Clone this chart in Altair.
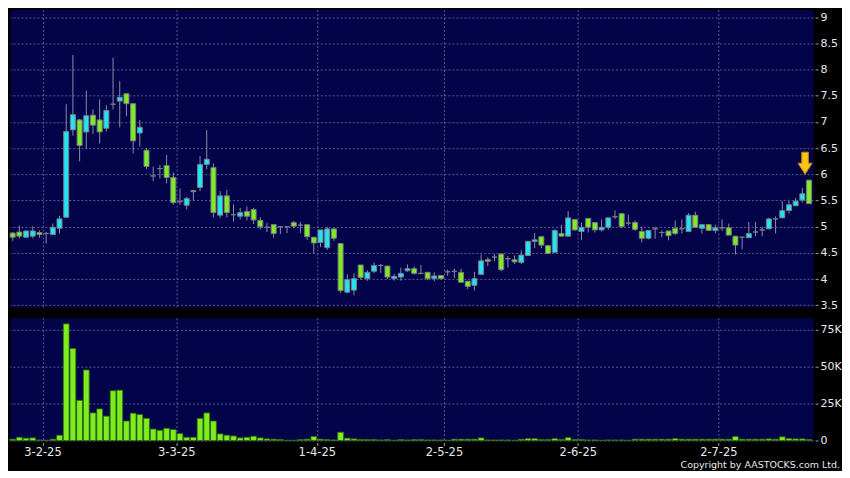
import altair as alt
import pandas as pd

# ---------------- data ----------------
opens = [4.88, 4.90, 4.80, 4.82, 4.89, 4.87, 4.85, 4.97, 5.18, 6.85,
         7.04, 6.81, 7.13, 7.04, 6.88, 7.34, 7.40, 7.54, 7.35, 6.79,
         6.46, 5.97, 6.11, 6.17, 5.94, 5.48, 5.41, 5.69, 5.75, 6.19,
         6.13, 5.22, 5.59, 5.23, 5.20, 5.29, 5.33, 5.12, 4.99, 5.04,
         5.00, 5.00, 5.08, 5.03, 5.04, 4.80, 4.70, 4.60, 4.96, 4.68,
         3.75, 3.79, 4.27, 4.01, 4.15, 4.26, 4.25, 4.01, 4.04, 4.16,
         4.20, 4.11, 4.13, 4.01, 4.07, 4.14, 4.15, 4.13, 3.96, 3.88,
         4.09, 4.37, 4.42, 4.48, 4.39, 4.37, 4.32, 4.45, 4.72, 4.81,
         4.64, 4.51, 4.87, 4.82, 5.14, 4.91, 5.16, 5.08, 4.94, 4.99,
         5.19, 5.25, 5.07, 5.08, 4.91, 4.78, 4.96, 4.89, 4.92, 4.97,
         4.96, 4.91, 5.22, 4.97, 5.04, 4.93, 4.98, 4.98, 4.82, 4.80,
         4.79, 4.90, 4.94, 4.96, 5.15, 5.17, 5.31, 5.40, 5.51, 5.89]
highs = [4.90, 5.02, 4.93, 5.01, 4.93, 4.90, 5.06, 5.21, 7.34, 8.28,
         7.06, 7.60, 7.24, 7.43, 7.32, 8.23, 7.78, 7.54, 7.35, 7.04,
         6.50, 6.15, 6.18, 6.37, 6.04, 5.73, 5.57, 5.69, 6.35, 6.85,
         6.21, 5.68, 5.70, 5.43, 5.36, 5.39, 5.36, 5.18, 5.07, 5.04,
         5.00, 5.00, 5.11, 5.09, 5.04, 4.80, 4.94, 5.00, 4.96, 4.68,
         4.09, 4.11, 4.27, 4.17, 4.32, 4.29, 4.25, 4.10, 4.22, 4.28,
         4.24, 4.27, 4.13, 4.13, 4.07, 4.18, 4.20, 4.20, 3.96, 4.14,
         4.47, 4.42, 4.48, 4.48, 4.44, 4.45, 4.55, 4.73, 4.88, 4.81,
         4.64, 4.95, 5.04, 5.30, 5.14, 5.08, 5.16, 5.08, 5.14, 5.17,
         5.31, 5.25, 5.23, 5.12, 5.00, 4.93, 5.00, 4.93, 4.92, 5.12,
         5.14, 5.26, 5.29, 5.04, 5.04, 5.04, 5.14, 5.06, 4.82, 4.80,
         5.09, 5.09, 5.00, 5.17, 5.20, 5.49, 5.49, 5.55, 5.74, 5.89]
lows = [4.73, 4.78, 4.79, 4.78, 4.79, 4.68, 4.85, 4.87, 5.18, 6.74,
        6.25, 6.49, 6.77, 6.59, 6.82, 7.24, 6.90, 7.11, 6.40, 6.53,
        6.10, 5.87, 5.92, 5.83, 5.42, 5.42, 5.33, 5.50, 5.68, 6.10,
        5.18, 5.17, 5.18, 5.10, 5.14, 5.12, 5.05, 4.95, 4.90, 4.79,
        4.86, 4.88, 4.97, 4.88, 4.75, 4.49, 4.61, 4.56, 4.73, 3.74,
        3.73, 3.69, 3.99, 3.97, 4.11, 4.12, 4.00, 3.97, 3.97, 4.14,
        4.09, 4.09, 3.98, 3.96, 3.99, 4.06, 4.02, 3.93, 3.81, 3.78,
        4.09, 4.25, 4.34, 4.15, 4.22, 4.29, 4.29, 4.45, 4.59, 4.59,
        4.48, 4.51, 4.81, 4.82, 4.92, 4.75, 4.89, 4.89, 4.91, 4.94,
        5.15, 4.97, 5.02, 4.92, 4.70, 4.76, 4.77, 4.80, 4.74, 4.84,
        4.87, 4.91, 4.99, 4.87, 4.92, 4.88, 4.92, 4.84, 4.47, 4.57,
        4.79, 4.82, 4.82, 4.96, 4.87, 5.17, 5.25, 5.40, 5.46, 5.44]
closes = [4.80, 4.82, 4.92, 4.92, 4.85, 4.87, 4.99, 5.15, 6.82, 7.14,
          6.55, 7.12, 6.94, 6.81, 7.22, 7.34, 7.47, 7.35, 6.64, 6.90,
          6.15, 5.97, 6.11, 5.94, 5.46, 5.48, 5.54, 5.67, 6.19, 6.29,
          5.27, 5.59, 5.27, 5.23, 5.27, 5.20, 5.13, 5.00, 4.99, 4.87,
          5.00, 5.00, 5.01, 5.03, 4.81, 4.69, 4.94, 4.96, 4.78, 3.78,
          3.99, 4.01, 4.03, 4.13, 4.26, 4.26, 4.04, 4.05, 4.11, 4.20,
          4.11, 4.11, 4.01, 4.06, 4.01, 4.14, 4.15, 3.94, 3.86, 4.01,
          4.35, 4.34, 4.42, 4.18, 4.39, 4.33, 4.46, 4.72, 4.75, 4.65,
          4.49, 4.93, 4.82, 5.17, 4.94, 4.99, 4.99, 4.94, 4.99, 5.17,
          5.19, 5.00, 5.07, 4.95, 4.78, 4.93, 4.96, 4.89, 4.83, 4.87,
          4.96, 5.22, 4.99, 5.04, 4.93, 4.98, 4.98, 4.84, 4.65, 4.80,
          4.87, 4.90, 4.94, 5.15, 5.15, 5.31, 5.42, 5.49, 5.63, 5.44]
volumes_k = [0.9, 2.2, 1.6, 1.8, 0.4, 0.2, 0.9, 3.6, 79.0, 62.3,
             27.2, 47.8, 18.7, 21.4, 16.5, 33.7, 34.1, 13.2, 18.5, 17.6,
             15.0, 7.8, 6.9, 8.3, 7.4, 4.7, 2.2, 2.2, 15.0, 18.7,
             13.2, 4.5, 3.6, 3.1, 1.8, 2.2, 2.9, 1.8, 1.1, 0.9,
             0.7, 0.2, 0.2, 0.7, 0.9, 2.7, 0.9, 0.7, 0.4, 5.6,
             1.6, 1.1, 0.7, 0.7, 0.7, 0.4, 0.7, 0.2, 0.7, 0.4,
             0.7, 0.7, 0.4, 0.4, 0.4, 0.2, 0.9, 0.9, 0.9, 0.9,
             1.8, 0.4, 0.4, 0.4, 0.4, 0.2, 0.9, 1.3, 1.3, 0.7,
             0.7, 1.3, 0.7, 2.0, 0.7, 0.7, 0.4, 0.4, 0.2, 0.4,
             0.4, 0.4, 0.2, 0.9, 0.9, 0.9, 0.9, 0.9, 0.9, 1.3,
             0.9, 0.9, 0.9, 0.9, 0.9, 0.9, 0.9, 0.9, 2.7, 0.9,
             0.9, 0.9, 0.9, 1.1, 0.9, 2.5, 1.3, 1.1, 1.1, 0.7]

tick_index = [4, 24, 45, 64, 84, 105]
tick_labels = ["3-2-25", "3-3-25", "1-4-25", "2-5-25", "2-6-25", "2-7-25"]
price_ticks = [9, 8.5, 8, 7.5, 7, 6.5, 6, 5.5, 5, 4.5, 4, 3.5]
volume_ticks = [0, 25000, 50000, 75000]
copyright_text = "Copyright by AASTOCKS.com Ltd."

# ---------------- styling ----------------
NAVY = "#03034a"
CYAN = "#22e4f0"
LIME = "#7ded1f"
GRAY = "#9a9aa6"
WICK = "#8c8ca4"
EDGE = "#7a7a88"
GRID = "#5c5c90"
LABEL = "#e8e8e8"
FONT = "DejaVu Sans"
PLOT_W = 805

n = len(opens)
df = pd.DataFrame({
    "i": list(range(n)),
    "open": opens, "high": highs, "low": lows, "close": closes,
    "vol": [v * 1000 for v in volumes_k],
})
df["dir"] = ["up" if c > o else ("down" if c < o else "flat")
             for o, c in zip(opens, closes)]

grid_pos = [t + 0.45 for t in tick_index]
label_expr = "".join(
    f"abs(datum.value - {g}) < 0.01 ? '{lab}' : " for g, lab in zip(grid_pos, tick_labels)
) + "''"

x_scale = alt.Scale(domain=[-0.4, 119.6], nice=False, zero=False, padding=0)
price_scale = alt.Scale(domain=[3.471, 9.147], nice=False, zero=False)
vol_scale = alt.Scale(domain=[0, 83100], nice=False, zero=False)

x_price = alt.X("i:Q", scale=x_scale, title=None,
                axis=alt.Axis(values=grid_pos, labels=False, ticks=False,
                              domain=False, grid=True))
y_axis_price = alt.Axis(orient="right", values=price_ticks, format=".1~f",
                        grid=True, tickSize=3, offset=2, labelPadding=2,
                        domain=False, labelFontSize=11)

base = alt.Chart(df)

wicks = base.mark_rule(color=WICK, strokeWidth=1).encode(
    x=x_price,
    y=alt.Y("low:Q", scale=price_scale, axis=y_axis_price, title=None),
    y2="high:Q",
)
bodies = base.mark_bar(size=5, stroke=EDGE, strokeWidth=1).encode(
    x=x_price,
    y=alt.Y("open:Q", scale=price_scale, axis=y_axis_price, title=None),
    y2="close:Q",
    color=alt.Color("dir:N", legend=None,
                    scale=alt.Scale(domain=["up", "down", "flat"],
                                    range=[CYAN, LIME, GRAY])),
)
ARROW = "M-0.3,-1 L0.3,-1 L0.3,0 L0.64,0 L0,1 L-0.64,0 L-0.3,0 Z"
arrow = alt.Chart(df.tail(1)).mark_point(
    shape=ARROW, size=484, filled=True, fill="#f8c41c", stroke="#c98800",
    strokeWidth=1, opacity=1, xOffset=-4, yOffset=-17,
).encode(
    x=x_price,
    y=alt.Y("high:Q", scale=price_scale, axis=y_axis_price, title=None),
)

price = alt.layer(wicks, bodies, arrow).properties(width=PLOT_W, height=298)

x_vol = alt.X("i:Q", scale=x_scale, title=None,
              axis=alt.Axis(values=grid_pos, labelExpr=label_expr, grid=True,
                            tickSize=3, offset=2, labelPadding=1, domain=False,
                            labelFontSize=11.5))
vol_bars = base.mark_bar(size=5.8, color=LIME, stroke="#2f6b0a",
                         strokeWidth=0.8).encode(
    x=x_vol,
    y=alt.Y("vol:Q", scale=vol_scale, title=None,
            axis=alt.Axis(orient="right", values=volume_ticks,
                          labelExpr="datum.value == 0 ? '0' : (datum.value / 1000) + 'K'",
                          grid=True, tickSize=3, offset=2, labelPadding=2,
                          domain=False, labelFontSize=11)),
)
copyright_mark = alt.Chart(pd.DataFrame({"t": [copyright_text]})).mark_text(
    align="right", baseline="middle", font=FONT, fontSize=9.5, color=LABEL,
).encode(text="t:N", x=alt.value(832), y=alt.value(148))

volume = alt.layer(vol_bars, copyright_mark).properties(width=PLOT_W, height=123)

chart = alt.vconcat(price, volume, spacing=11, bounds="flush").properties(
    padding=0, background="#000000"
).configure_view(
    fill=NAVY, stroke="transparent"
).configure_axis(
    labelFont=FONT, labelColor=LABEL, tickColor=GRAY, tickWidth=1,
    gridColor=GRID, gridDash=[2, 2], gridWidth=1, gridOpacity=1,
)

chart.save("out.html", embed_options={"renderer": "svg", "actions": False})
